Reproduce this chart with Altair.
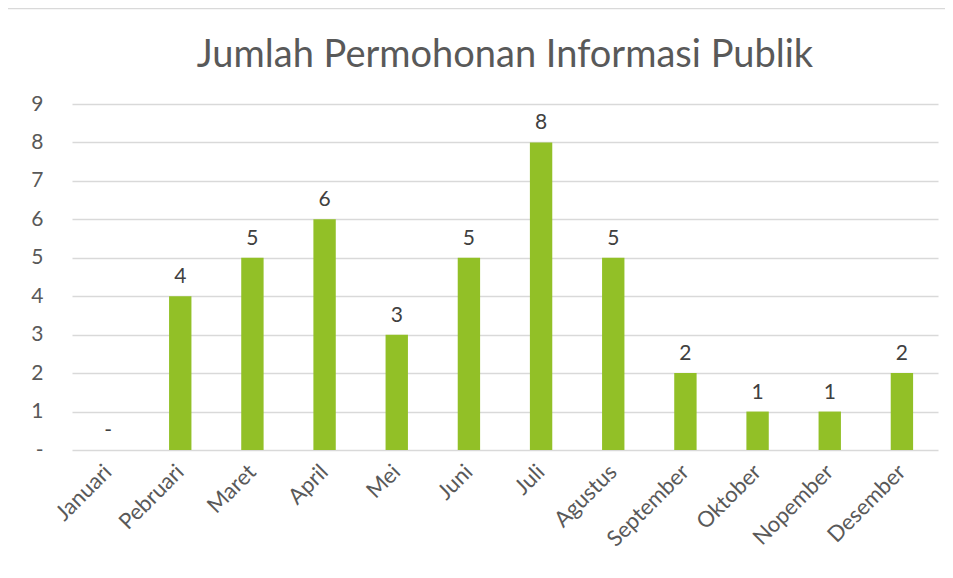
import altair as alt
import pandas as pd

months = ["Januari", "Pebruari", "Maret", "April", "Mei", "Juni", "Juli",
          "Agustus", "September", "Oktober", "Nopember", "Desember"]
values = [0, 4, 5, 6, 3, 5, 8, 5, 2, 1, 1, 2]
y_ticks = [0, 1, 2, 3, 4, 5, 6, 7, 8, 9]
title_text = "Jumlah Permohonan Informasi Publik"

df = pd.DataFrame({"bulan": months, "jumlah": values})
df["label"] = ["-" if v == 0 else str(v) for v in values]

FONT = "Lato"
GRAY = "#595959"
W, H = 866, 346

x_enc = alt.X("bulan:N", sort=months, title=None,
              scale=alt.Scale(paddingInner=0.69, paddingOuter=0.345),
              axis=alt.Axis(labelAngle=-45, labelFontSize=22, labelColor=GRAY,
                            labelFont=FONT, ticks=False, domain=False,
                            labelPadding=18, labelAlign="right", labelBaseline="middle"))
y_enc = alt.Y("jumlah:Q", title=None,
              scale=alt.Scale(domain=[0, 9], nice=False),
              axis=alt.Axis(values=y_ticks, labelFontSize=21, labelColor=GRAY,
                            labelFont=FONT, ticks=False, domain=False,
                            labelPadding=29, gridColor="#D9D9D9", gridWidth=1.5,
                            labelExpr="datum.value == 0 ? '-' : datum.label"))

base = alt.Chart(df).encode(x=x_enc, y=y_enc)

bars = base.mark_bar(color="#92C027")
labels = base.mark_text(dy=-19, fontSize=21, color="#404040", font=FONT).encode(text="label:N")

one = pd.DataFrame({"t": [title_text]})
frame = alt.Chart(one).mark_rect(
    fill=None, stroke="#D9D9D9", strokeWidth=1.5, clip=False
).encode(x=alt.value(-65), x2=alt.value(W + 40), y=alt.value(-95.5), y2=alt.value(H + 200))

title = alt.Chart(one).mark_text(fontSize=38, font=FONT, color=GRAY, baseline="alphabetic",
                                 align="center").encode(
    text="t:N", x=alt.value(W / 2), y=alt.value(-37))

chart = alt.layer(frame, bars, labels, title).properties(
    width=W, height=H,
    autosize=alt.AutoSizeParams(type="none"),
    padding={"left": 64, "top": 96, "right": 7, "bottom": 120},
    background="white",
).configure_view(stroke=None)

chart.save("out.html", embed_options={"renderer": "svg", "actions": False})
